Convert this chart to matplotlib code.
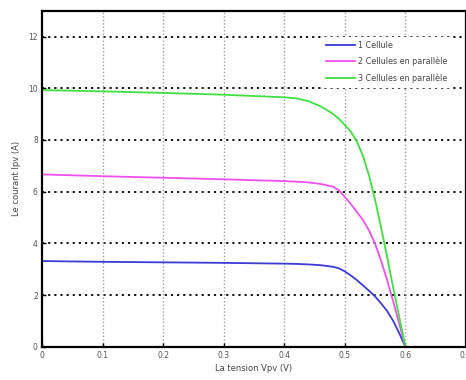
import numpy as np
import matplotlib
matplotlib.use('Agg')
import matplotlib.pyplot as plt

# Tension (V)
voltage = [0, 0.1, 0.2, 0.3, 0.4, 0.42, 0.44, 0.46, 0.48, 0.49, 0.5, 0.51,
           0.52, 0.53, 0.54, 0.55, 0.56, 0.57, 0.58, 0.59, 0.6]

# Courant (A) pour 1, 2 et 3 cellules en parallele
i_1cell = [3.32, 3.29, 3.27, 3.25, 3.22, 3.21, 3.19, 3.16, 3.1, 3.04, 2.92,
           2.76, 2.58, 2.38, 2.17, 1.95, 1.68, 1.38, 1.0, 0.52, 0.0]
i_2cell = [6.67, 6.6, 6.54, 6.48, 6.41, 6.39, 6.36, 6.3, 6.2, 6.06, 5.8,
           5.52, 5.22, 4.9, 4.5, 3.98, 3.32, 2.57, 1.75, 0.88, 0.0]
i_3cell = [9.93, 9.88, 9.82, 9.75, 9.65, 9.61, 9.5, 9.3, 9.02, 8.82, 8.58,
           8.32, 7.93, 7.38, 6.62, 5.68, 4.6, 3.45, 2.28, 1.14, 0.0]

labels = ['1 Cellule', '2 Cellules en parallèle', '3 Cellules en parallèle']
colors = ['#3b3bd6', '#f050f0', '#40e040']

xticks = [0, 0.1, 0.2, 0.3, 0.4, 0.5, 0.6, 0.7]
yticks = [0, 2, 4, 6, 8, 10, 12]

fig = plt.figure(figsize=(4.66, 3.80), dpi=100)
ax = fig.add_axes([0.090, 0.087, 0.91, 0.885])

for curr, lab, col in zip([i_1cell, i_2cell, i_3cell], labels, colors):
    ax.plot(voltage, curr, color=col, linewidth=1.3, label=lab)

ax.set_xlim(0, 0.7)
ax.set_ylim(0, 13)
ax.set_xticks(xticks)
ax.set_xticklabels([('%g' % t) for t in xticks])
ax.set_yticks(yticks)

# horizontal grid: heavy black dots, vertical grid: light grey dots
for y in yticks[1:]:
    ax.axhline(y, color='black', linestyle=(0, (1.2, 2.2)), linewidth=1.3, zorder=0)
for x in xticks[1:]:
    ax.axvline(x, color='#a0a0a0', linestyle=(0, (1, 1.5)), linewidth=1.0, zorder=0)

for s in ax.spines.values():
    s.set_linewidth(1.6)
    s.set_color('black')

ax.tick_params(direction='in', length=3, width=1, labelsize=5.5,
               labelcolor='#555555', pad=3)

ax.set_xlabel('La tension Vpv (V)', fontsize=6, color='#444444', labelpad=3)
ax.set_ylabel('Le courant Ipv (A)', fontsize=6, color='#444444', labelpad=5)

leg = ax.legend(loc='upper left', bbox_to_anchor=(0.650, 0.935), fontsize=5.8,
                frameon=True, fancybox=False, handlelength=3.6,
                borderpad=0.5, labelspacing=0.9, handletextpad=0.4)
leg.get_frame().set_edgecolor('white')
leg.get_frame().set_facecolor('white')
leg.get_frame().set_alpha(1.0)
for t in leg.get_texts():
    t.set_color('#444444')

fig.savefig('out.png', dpi=100)
